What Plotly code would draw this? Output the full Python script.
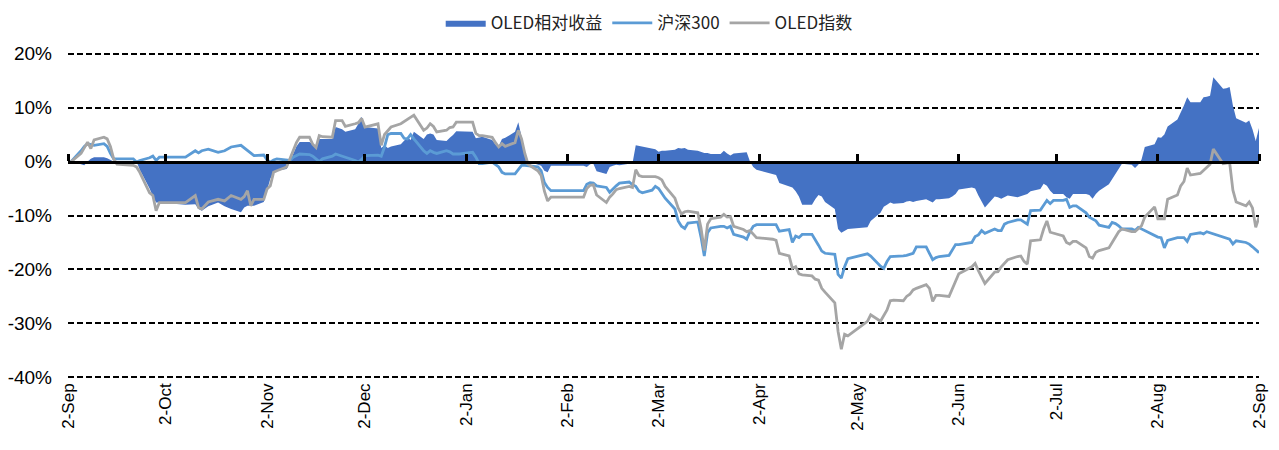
import plotly.graph_objects as go

# trading dates sampled from the chart
dates = [
    "2021-09-02", "2021-09-03", "2021-09-06", "2021-09-07", "2021-09-08", "2021-09-09", "2021-09-10",
    "2021-09-13", "2021-09-14", "2021-09-15", "2021-09-16", "2021-09-17", "2021-09-22", "2021-09-23",
    "2021-09-24", "2021-09-27", "2021-09-28", "2021-09-29", "2021-09-30", "2021-10-08", "2021-10-11",
    "2021-10-12", "2021-10-13", "2021-10-15", "2021-10-18", "2021-10-20", "2021-10-22", "2021-10-25",
    "2021-10-26", "2021-10-27", "2021-10-28", "2021-10-29", "2021-11-01", "2021-11-02", "2021-11-03",
    "2021-11-04", "2021-11-05", "2021-11-08", "2021-11-09", "2021-11-10", "2021-11-11", "2021-11-12",
    "2021-11-15", "2021-11-16", "2021-11-17", "2021-11-18", "2021-11-19", "2021-11-22", "2021-11-23",
    "2021-11-25", "2021-11-26", "2021-11-29", "2021-11-30", "2021-12-01", "2021-12-02", "2021-12-06",
    "2021-12-07", "2021-12-08", "2021-12-09", "2021-12-10", "2021-12-13", "2021-12-14", "2021-12-15",
    "2021-12-16", "2021-12-17", "2021-12-20", "2021-12-21", "2021-12-22", "2021-12-23", "2021-12-24",
    "2021-12-27", "2021-12-28", "2021-12-29", "2021-12-30", "2021-12-31", "2022-01-04", "2022-01-05",
    "2022-01-06", "2022-01-07", "2022-01-10", "2022-01-11", "2022-01-12", "2022-01-13", "2022-01-14",
    "2022-01-17", "2022-01-18", "2022-01-19", "2022-01-20", "2022-01-21", "2022-01-24", "2022-01-25",
    "2022-01-26", "2022-01-27", "2022-01-28", "2022-02-07", "2022-02-08", "2022-02-09", "2022-02-10",
    "2022-02-11", "2022-02-14", "2022-02-15", "2022-02-16", "2022-02-17", "2022-02-18", "2022-02-21",
    "2022-02-22", "2022-02-23", "2022-02-24", "2022-02-25", "2022-02-28", "2022-03-01", "2022-03-02",
    "2022-03-03", "2022-03-04", "2022-03-07", "2022-03-08", "2022-03-09", "2022-03-10", "2022-03-11",
    "2022-03-14", "2022-03-15", "2022-03-16", "2022-03-17", "2022-03-18", "2022-03-21", "2022-03-22",
    "2022-03-23", "2022-03-24", "2022-03-25", "2022-03-28", "2022-03-29", "2022-03-30", "2022-03-31",
    "2022-04-01", "2022-04-06", "2022-04-07", "2022-04-08", "2022-04-11", "2022-04-12", "2022-04-13",
    "2022-04-14", "2022-04-15", "2022-04-18", "2022-04-19", "2022-04-20", "2022-04-21", "2022-04-22",
    "2022-04-25", "2022-04-26", "2022-04-27", "2022-04-28", "2022-04-29", "2022-05-05", "2022-05-06",
    "2022-05-09", "2022-05-10", "2022-05-11", "2022-05-12", "2022-05-13", "2022-05-16", "2022-05-17",
    "2022-05-18", "2022-05-19", "2022-05-20", "2022-05-23", "2022-05-24", "2022-05-25", "2022-05-26",
    "2022-05-27", "2022-05-30", "2022-05-31", "2022-06-01", "2022-06-02", "2022-06-06", "2022-06-07",
    "2022-06-08", "2022-06-09", "2022-06-10", "2022-06-13", "2022-06-14", "2022-06-15", "2022-06-16",
    "2022-06-17", "2022-06-20", "2022-06-21", "2022-06-22", "2022-06-23", "2022-06-24", "2022-06-27",
    "2022-06-28", "2022-06-29", "2022-06-30", "2022-07-01", "2022-07-04", "2022-07-05", "2022-07-06",
    "2022-07-07", "2022-07-08", "2022-07-11", "2022-07-12", "2022-07-13", "2022-07-14", "2022-07-15",
    "2022-07-18", "2022-07-19", "2022-07-20", "2022-07-21", "2022-07-22", "2022-07-25", "2022-07-26",
    "2022-07-27", "2022-07-28", "2022-07-29", "2022-08-01", "2022-08-02", "2022-08-03", "2022-08-04",
    "2022-08-05", "2022-08-08", "2022-08-09", "2022-08-10", "2022-08-11", "2022-08-12", "2022-08-15",
    "2022-08-16", "2022-08-17", "2022-08-18", "2022-08-19", "2022-08-22", "2022-08-23", "2022-08-24",
    "2022-08-25", "2022-08-26", "2022-08-29", "2022-08-30", "2022-08-31", "2022-09-01", "2022-09-02",
]

# OLED指数 cumulative return (%)
oled = [
    0, 0, 1.5, 2.6, 3.6, 2.4, 4.0,
    4.5, 4.2, 2.8, 0.5, -0.5, -0.7, -1.0,
    -2.0, -5.8, -6.3, -9.1, -7.6, -7.6, -6.3,
    -8.5, -8.8, -7.5, -7.0, -7.3, -6.3, -7.0,
    -6.5, -5.4, -8.2, -7.0, -7.0, -5.1, -4.5,
    -2.0, -1.7, -1.0, 0.5, 2.0, 3.5, 4.5,
    4.5, 3.2, 2.6, 4.8, 4.6, 4.5, 7.6,
    7.6, 6.5, 7.0, 7.2, 8.0, 6.4, 7.0,
    3.0, 5.0, 5.8, 6.4, 7.0, 7.4, 7.8,
    8.2, 8.6, 5.8, 6.2, 7.0, 6.5, 5.5,
    5.8, 6.3, 6.4, 7.3, 7.3, 7.3, 5.2,
    4.8, 4.8, 4.5, 3.5, 2.7, 3.3, 2.8,
    3.5, 5.8, 4.2, 1.5, -0.5, -1.7, -2.6,
    -5.5, -7.3, -6.6, -6.6, -5.0, -4.4, -4.3,
    -6.2, -7.6, -6.6, -6.0, -5.2, -5.0, -4.6,
    -4.8, -1.5, -2.6, -2.8, -2.8, -2.8, -3.0,
    -3.4, -4.6, -6.8, -8.6, -9.7, -9.3, -9.2,
    -9.5, -12.3, -16.5, -11.6, -10.6, -10.3, -9.8,
    -10.3, -10.2, -12.0, -12.6, -13.0, -12.8, -13.5,
    -14.1, -14.4, -14.6, -17.0, -17.5, -19.8, -19.5,
    -20.8, -21.0, -21.2, -21.8, -22.0, -23.5, -24.2,
    -26.2, -31.5, -34.8, -32.0, -32.3, -29.6, -28.4,
    -29.6, -28.4, -27.5, -25.8, -25.7, -25.8, -25.0,
    -24.6, -23.8, -23.5, -22.8, -23.5, -25.9, -24.8,
    -24.8, -25.0, -23.5, -22.3, -20.8, -19.5, -18.9,
    -20.2, -21.5, -22.6, -20.5, -20.4, -19.5, -18.8,
    -18.2, -17.6, -17.5, -18.5, -19.0, -14.7, -14.5,
    -12.5, -11.0, -13.1, -13.3, -13.8, -15.0, -15.3,
    -14.8, -14.8, -16.0, -17.6, -17.9, -16.8, -16.5,
    -16.0, -15.0, -14.0, -13.0, -12.5, -13.0, -13.0,
    -12.5, -11.9, -10.3, -8.4, -10.6, -10.6, -10.6,
    -7.0, -6.2, -4.5, -3.7, -1.2, -2.5, -2.2,
    -1.6, -1.0, -0.5, 2.3, -0.4, -0.3, -0.2,
    -5.3, -7.5, -8.2, -7.5, -8.6, -12.2, -10.3,
]

# 沪深300 cumulative return (%)
hs300 = [
    0, 0, 2.0, 2.8, 3.3, 3.1, 3.0,
    3.3, 2.8, 1.5, 0.5, 0.5, 0.5, -0.1,
    0.2, 0.7, 1.0, 0.2, 0.8, 0.8, 2.0,
    1.6, 2.0, 2.3, 1.7, 2.0, 2.7, 3.0,
    2.5, 2.0, 1.5, 1.1, 1.2, 0.3, -0.1,
    0.3, 0.5, 0.2, 0.2, 0.8, 1.1, 1.4,
    1.3, 1.0, 0.5, 0.0, 0.5, 1.0, 1.4,
    1.0, 0.9, 0.2, -0.1, 0.4, 1.1, 1.2,
    1.0, 2.7, 5.0, 5.2, 5.2, 4.3, 4.2,
    5.0, 4.2, 2.0, 1.5, 2.0, 1.7, 1.5,
    2.0, 1.8, 1.4, 1.4, 1.4, 1.7, 0.8,
    -0.4, -0.4, -0.1, -0.6, -1.0, -2.0, -2.3,
    -2.3, -1.5, -0.7, -0.7, -0.8, -1.0, -1.7,
    -3.9, -4.8, -5.4, -5.4, -4.2, -3.9, -4.0,
    -4.5, -4.8, -5.7, -5.0, -4.5, -4.0, -3.8,
    -4.3, -4.6, -5.5, -5.8, -5.3, -4.6, -5.0,
    -5.8, -6.8, -8.8, -11.0, -12.0, -12.4, -11.4,
    -11.2, -14.0, -17.5, -13.2, -12.3, -12.0, -12.0,
    -12.3, -12.0, -13.5, -14.0, -14.4, -13.0, -12.0,
    -11.7, -11.7, -11.7, -12.9, -12.6, -15.0, -13.8,
    -14.1, -13.5, -13.5, -14.4, -15.5, -16.6, -17.0,
    -17.2, -20.9, -21.6, -19.5, -18.0, -17.1, -17.5,
    -19.4, -19.8, -18.5, -17.6, -17.6, -17.5, -17.4,
    -17.2, -17.0, -15.8, -15.8, -17.0, -18.2, -17.8,
    -17.6, -17.4, -16.5, -15.4, -15.4, -15.0, -13.9,
    -13.6, -12.8, -13.3, -12.5, -12.8, -12.8, -11.6,
    -11.3, -10.8, -10.8, -11.2, -11.6, -9.1, -9.0,
    -8.1, -7.2, -7.8, -7.2, -7.2, -7.0, -8.5,
    -8.2, -8.2, -9.5, -10.3, -10.6, -11.0, -11.8,
    -12.2, -11.3, -11.5, -11.9, -12.5, -12.5, -12.8,
    -12.2, -12.5, -12.8, -13.8, -14.0, -14.1, -16.0,
    -14.6, -14.1, -14.1, -14.1, -14.8, -13.5, -13.2,
    -13.4, -13.0, -13.2, -13.4, -14.1, -14.2, -14.4,
    -15.3, -14.7, -15.0, -15.3, -15.8, -16.4, -16.9,
]

# OLED相对收益 (%)
rel = [
    0, 0, -0.5, -0.7, 0.0, 0.5, 0.8,
    0.8, 0.6, 0.3, 0.0, 0.0, 0.0, 0.0,
    -1.5, -5.0, -6.5, -7.6, -7.6, -8.0, -7.9,
    -8.8, -9.1, -8.3, -7.6, -8.3, -8.8, -9.4,
    -8.5, -8.2, -8.2, -8.2, -7.5, -5.3, -3.2,
    -2.0, -1.7, -1.4, 0.0, 1.4, 2.8, 3.6,
    3.6, 3.3, 2.4, 4.2, 4.2, 4.2, 6.4,
    6.0, 5.5, 6.0, 7.0, 8.3, 6.4, 6.1,
    2.5, 3.0, 2.5, 2.8, 3.2, 3.8, 4.5,
    4.0, 5.5, 4.2, 5.0, 5.2, 5.0, 4.0,
    3.8, 4.4, 4.9, 5.6, 5.6, 5.5, 4.3,
    4.5, 4.6, 4.0, 3.2, 2.9, 4.2, 4.4,
    5.5, 7.3, 4.5, 1.8, 0.0, -0.6, -0.8,
    -1.7, -2.0, -0.8, -0.8, -1.0, -0.5, -0.4,
    -1.8, -2.3, -1.0, -0.8, -0.6, -0.7, -0.5,
    -0.3, 3.0, 2.9, 2.8, 2.5, 2.3, 1.8,
    2.0, 2.0, 2.2, 2.5, 2.4, 2.5, 2.2,
    2.0, 1.8, 1.6, 1.6, 1.4, 1.4, 2.0,
    1.5, 1.1, 1.5, 1.7, 1.7, 0.0, -1.0,
    -1.5, -2.3, -2.5, -4.0, -4.6, -4.8, -5.5,
    -6.5, -8.0, -8.0, -7.0, -6.2, -6.5, -7.5,
    -8.8, -12.5, -13.2, -12.8, -12.5, -12.2, -11.0,
    -9.5, -8.4, -8.0, -7.6, -7.8, -7.7, -7.4,
    -7.3, -7.5, -7.3, -7.0, -7.3, -7.6, -7.0,
    -7.0, -6.8, -6.5, -6.0, -5.2, -4.8, -5.0,
    -6.3, -7.5, -8.5, -6.5, -6.6, -6.9, -6.6,
    -6.3, -6.6, -6.4, -6.2, -6.0, -5.5, -5.1,
    -4.1, -4.5, -5.4, -6.0, -6.0, -6.6, -6.9,
    -6.0, -6.0, -6.0, -6.2, -6.9, -6.0, -5.4,
    -4.2, -3.2, -2.3, -1.2, -0.4, -0.6, -1.2,
    -0.6, 0.4, 2.7, 3.2, 4.5, 4.4, 5.0,
    6.5, 7.8, 9.0, 10.4, 11.9, 11.0, 11.0,
    11.9, 12.0, 12.2, 15.6, 13.5, 13.6, 13.8,
    10.4, 8.0, 7.2, 7.6, 6.0, 3.8, 6.2,
]

tick_dates = ["2021-09-02", "2021-10-02", "2021-11-02", "2021-12-02", "2022-01-02", "2022-02-02",
              "2022-03-02", "2022-04-02", "2022-05-02", "2022-06-02", "2022-07-02", "2022-08-02",
              "2022-09-02"]
tick_text = ["2-Sep", "2-Oct", "2-Nov", "2-Dec", "2-Jan", "2-Feb", "2-Mar", "2-Apr", "2-May",
             "2-Jun", "2-Jul", "2-Aug", "2-Sep"]
y_ticks = [-40, -30, -20, -10, 0, 10, 20]
y_text = ["-40%", "-30%", "-20%", "-10%", "0%", "10%", "20%"]

x_range = [tick_dates[0], tick_dates[-1]]
y_range = [-40.3, 20.3]

fig = go.Figure()

fig.add_trace(go.Scatter(
    x=dates, y=rel, name="OLED相对收益", mode="lines",
    line=dict(width=0, color="#4472C4"), fill="tozeroy", fillcolor="#4472C4"))
fig.add_trace(go.Scatter(
    x=dates, y=hs300, name="沪深300", mode="lines",
    line=dict(color="#5B9BD5", width=2.8)))
fig.add_trace(go.Scatter(
    x=dates, y=oled, name="OLED指数", mode="lines",
    line=dict(color="#A5A5A5", width=2.8)))

# invisible trace so the zero-line axis (with month ticks) gets drawn
fig.add_trace(go.Scatter(
    x=dates, y=rel, xaxis="x2", mode="lines", opacity=0,
    showlegend=False, hoverinfo="skip"))

# page body adds an 8px offset, margins compensate for it
fig.update_layout(
    width=1279, height=450,
    margin=dict(l=60, r=28, t=44, b=79, autoexpand=False),
    plot_bgcolor="white", paper_bgcolor="white",
    font=dict(family="Liberation Sans, Arial", color="black"),
    legend=dict(orientation="h", x=0.488, xanchor="center", y=0.966, yanchor="middle",
                yref="container", font=dict(family="Noto Sans CJK SC", size=17, color="#222"),
                itemwidth=40, traceorder="normal"),
    xaxis=dict(type="date", range=x_range, tickvals=tick_dates, ticktext=tick_text,
               tickangle=-90, tickfont=dict(size=17), showgrid=False, showline=False,
               ticks="", zeroline=False, automargin=False),
    xaxis2=dict(type="date", overlaying="x", anchor="free",
                position=(0 - y_range[0]) / (y_range[1] - y_range[0]), side="top",
                range=x_range, tickvals=tick_dates, showticklabels=False,
                ticks="outside", ticklen=7, tickwidth=3, tickcolor="black",
                showline=True, linecolor="black", linewidth=3, showgrid=False),
    yaxis=dict(range=y_range, tickvals=y_ticks, ticktext=y_text,
               tickfont=dict(size=19), showgrid=True, gridcolor="black",
               gridwidth=1.6, griddash="6px,3px", zeroline=False, showline=False,
               ticklabelstandoff=15, automargin=False),
)

fig.write_html("out.html")
